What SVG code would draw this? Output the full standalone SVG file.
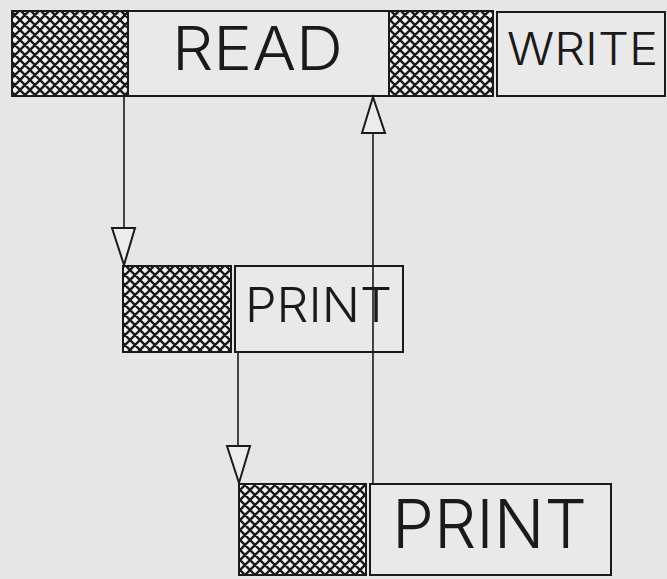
<svg xmlns="http://www.w3.org/2000/svg" width="667" height="579" viewBox="0 0 667 579">
<defs>
<pattern id="hatch" patternUnits="userSpaceOnUse" width="10" height="10">
<rect width="10" height="10" fill="#f4f4f4"/>
<path d="M0,0 L10,10 M10,0 L0,10 M-1,9 L1,11 M9,-1 L11,1 M-1,1 L1,-1 M9,11 L11,9" stroke="#1a1a1a" stroke-width="2.4"/>
</pattern>
<style>
.hb{fill:url(#hatch);stroke:#1a1a1a;stroke-width:2}
.bx{fill:#e9e9e9;stroke:#1a1a1a;stroke-width:2}
.t{font-family:Inter,"Liberation Sans",Arial,sans-serif;font-weight:300;fill:#1a1a1a}
.ln{stroke:#1a1a1a;stroke-width:1.6;fill:none}
.ah{fill:#ececec;stroke:#1a1a1a;stroke-width:2}
</style>
</defs>
<rect width="667" height="579" fill="#e6e6e6"/>
<g id="read">
<rect class="hb" x="12" y="11" width="116" height="85"/>
<rect class="bx" x="128" y="11" width="261" height="85"/>
<text class="t" x="172" y="70" font-size="60" textLength="171" lengthAdjust="spacingAndGlyphs">READ</text>
</g>
<g id="write">
<rect class="hb" x="389" y="11" width="104" height="85"/>
<rect class="bx" x="497" y="12" width="168" height="84"/>
<text class="t" x="507" y="65" font-size="45" textLength="151" lengthAdjust="spacingAndGlyphs">WRITE</text>
</g>
<g id="print1">
<rect class="hb" x="123" y="266" width="108" height="86"/>
<rect class="bx" x="235" y="266" width="168" height="86"/>
<text class="t" x="245" y="322" font-size="47.5" textLength="147" lengthAdjust="spacingAndGlyphs">PRINT</text>
</g>
<g id="print2">
<rect class="hb" x="239" y="484" width="127" height="91"/>
<rect class="bx" x="370" y="484" width="241" height="91"/>
<text class="t" x="392" y="548" font-size="67" textLength="195" lengthAdjust="spacingAndGlyphs">PRINT</text>
</g>
<g id="connectors">
<line class="ln" x1="124" y1="96" x2="124" y2="228"/>
<path class="ah" d="M112,228 L135,228 L124,265 Z"/>
<line class="ln" x1="238" y1="353" x2="238" y2="446"/>
<path class="ah" d="M227,446 L250,446 L239,483 Z"/>
<line class="ln" x1="373" y1="484" x2="373" y2="133"/>
<path class="ah" d="M362,133 L385,133 L373,97 Z"/>
</g>
</svg>
